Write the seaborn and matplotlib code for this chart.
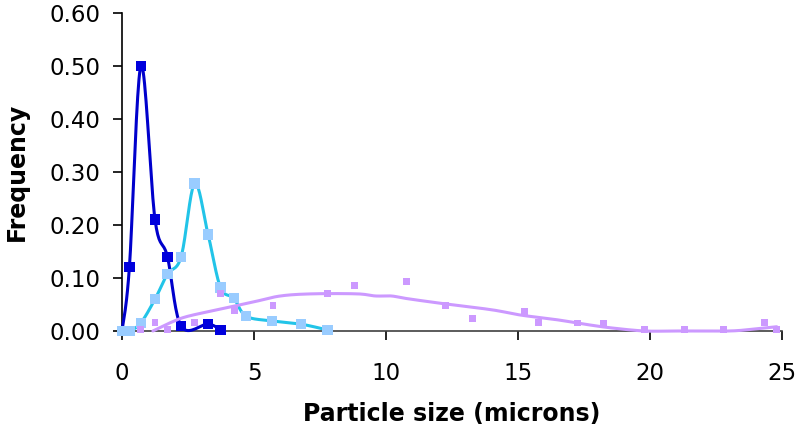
import numpy as np
import matplotlib
matplotlib.use("Agg")
import matplotlib.pyplot as plt
import seaborn as sns

# sample A (dark blue)
a_size = [0.0, 0.28, 0.72, 1.25, 1.72, 2.24, 3.26, 3.73]
a_freq = [0.0, 0.12, 0.50, 0.21, 0.14, 0.009, 0.013, 0.002]

# sample B (light blue)
b_size = [0.0, 0.28, 0.71, 1.25, 1.72, 2.24, 2.75, 3.26, 3.73, 4.23, 4.70, 5.69, 6.77, 7.78]
b_freq = [0.0, 0.0, 0.015, 0.06, 0.107, 0.14, 0.278, 0.182, 0.082, 0.062, 0.028, 0.019, 0.013, 0.002]

# sample C (purple) measured points
c_size = [0.71, 1.25, 1.72, 2.74, 3.73, 4.26, 5.72, 7.78, 8.8, 10.77, 12.25, 13.26,
          15.26, 15.79, 17.26, 18.25, 19.79, 21.3, 22.78, 24.32, 24.8]
c_freq = [0.003, 0.016, 0.003, 0.016, 0.071, 0.038, 0.048, 0.071, 0.085, 0.094, 0.048, 0.024,
          0.036, 0.016, 0.015, 0.015, 0.002, 0.002, 0.002, 0.016, 0.003]

# sample C fitted trend
fit_size = [1.17, 1.8, 2.44, 3.7, 5.0, 6.0, 7.2, 8.9, 9.6, 10.2, 10.8, 12.1, 14.0,
            15.1, 16.5, 17.5, 18.5, 19.8, 21.0, 23.0, 24.0, 24.8]
fit_freq = [0.0, 0.015, 0.027, 0.041, 0.055, 0.066, 0.070, 0.070, 0.066, 0.066, 0.061, 0.052, 0.040,
            0.030, 0.021, 0.013, 0.006, 0.0, 0.0, 0.0, 0.004, 0.008]


# excel-style smoothed line (bezier through the points)
def smooth(xs, ys, n=20):
    x = np.asarray(xs, float)
    y = np.asarray(ys, float)
    px = np.concatenate([[x[0]], x, [x[-1]]])
    py = np.concatenate([[y[0]], y, [y[-1]]])
    out_x, out_y = [], []
    t = np.linspace(0, 1, n)
    for i in range(1, len(px) - 2):
        p0, p1, p2, p3 = (np.array([px[j], py[j]]) for j in range(i - 1, i + 3))
        c1 = p1 + (p2 - p0) / 6
        c2 = p2 - (p3 - p1) / 6
        pts = ((1 - t) ** 3)[:, None] * p1 + (3 * (1 - t) ** 2 * t)[:, None] * c1 \
            + (3 * (1 - t) * t ** 2)[:, None] * c2 + (t ** 3)[:, None] * p2
        out_x.extend(pts[:, 0])
        out_y.extend(pts[:, 1])
    return np.array(out_x), np.array(out_y)


sns.set_style("ticks")
plt.rcParams["font.family"] = ["DejaVu Sans"]
plt.rcParams["text.color"] = "black"
plt.rcParams["xtick.color"] = "black"
plt.rcParams["ytick.color"] = "black"
plt.rcParams["axes.labelcolor"] = "black"

fig = plt.figure(figsize=(7.99, 4.37), dpi=100)
ax = fig.add_axes([0.1527, 0.2426, 0.8260, 0.7284])

sx, sy = smooth(a_size, a_freq)
sns.lineplot(x=sx, y=sy, sort=False, estimator=None, color="#0000CC", lw=2.2, ax=ax, clip_on=False, zorder=3)
sns.scatterplot(x=a_size, y=a_freq, marker="s", s=55, color="#0000DD", edgecolor="none", ax=ax, clip_on=False, zorder=4)

sx, sy = smooth(b_size, b_freq)
sns.lineplot(x=sx, y=sy, sort=False, estimator=None, color="#22C4E8", lw=2.2, ax=ax, clip_on=False, zorder=5)
sns.scatterplot(x=b_size, y=b_freq, marker="s", s=55, color="#99CCFF", edgecolor="none", ax=ax, clip_on=False, zorder=6)

sx, sy = smooth(fit_size, fit_freq)
sns.lineplot(x=sx, y=sy, sort=False, estimator=None, color="#CC99FF", lw=2.2, ax=ax, clip_on=False, zorder=7)
sns.scatterplot(x=c_size, y=c_freq, marker="s", s=25, color="#CC99FF", edgecolor="none", ax=ax, clip_on=False, zorder=8)

ax.set_xlim(0, 25)
ax.set_ylim(0, 0.6)
ax.set_xticks([0, 5, 10, 15, 20, 25])
ax.set_yticks(np.arange(0, 0.61, 0.1))
ax.set_yticklabels([f"{v:.2f}" for v in np.arange(0, 0.61, 0.1)])
ax.tick_params(axis="both", labelsize=16.5, length=6.5, width=1.2, direction="out")
ax.tick_params(axis="y", pad=9)
ax.tick_params(axis="x", pad=16)
for sp in ["top", "right"]:
    ax.spines[sp].set_visible(False)
ax.spines["left"].set_linewidth(1.2)
ax.spines["left"].set_color("black")
ax.spines["bottom"].set_linewidth(1.2)
ax.spines["bottom"].set_color("#404040")

ax.set_xlabel("Particle size (microns)", fontsize=17, fontweight="bold", labelpad=12)
ax.set_ylabel("Frequency", fontsize=17, fontweight="bold", labelpad=15)

fig.savefig("out.png", dpi=100)
